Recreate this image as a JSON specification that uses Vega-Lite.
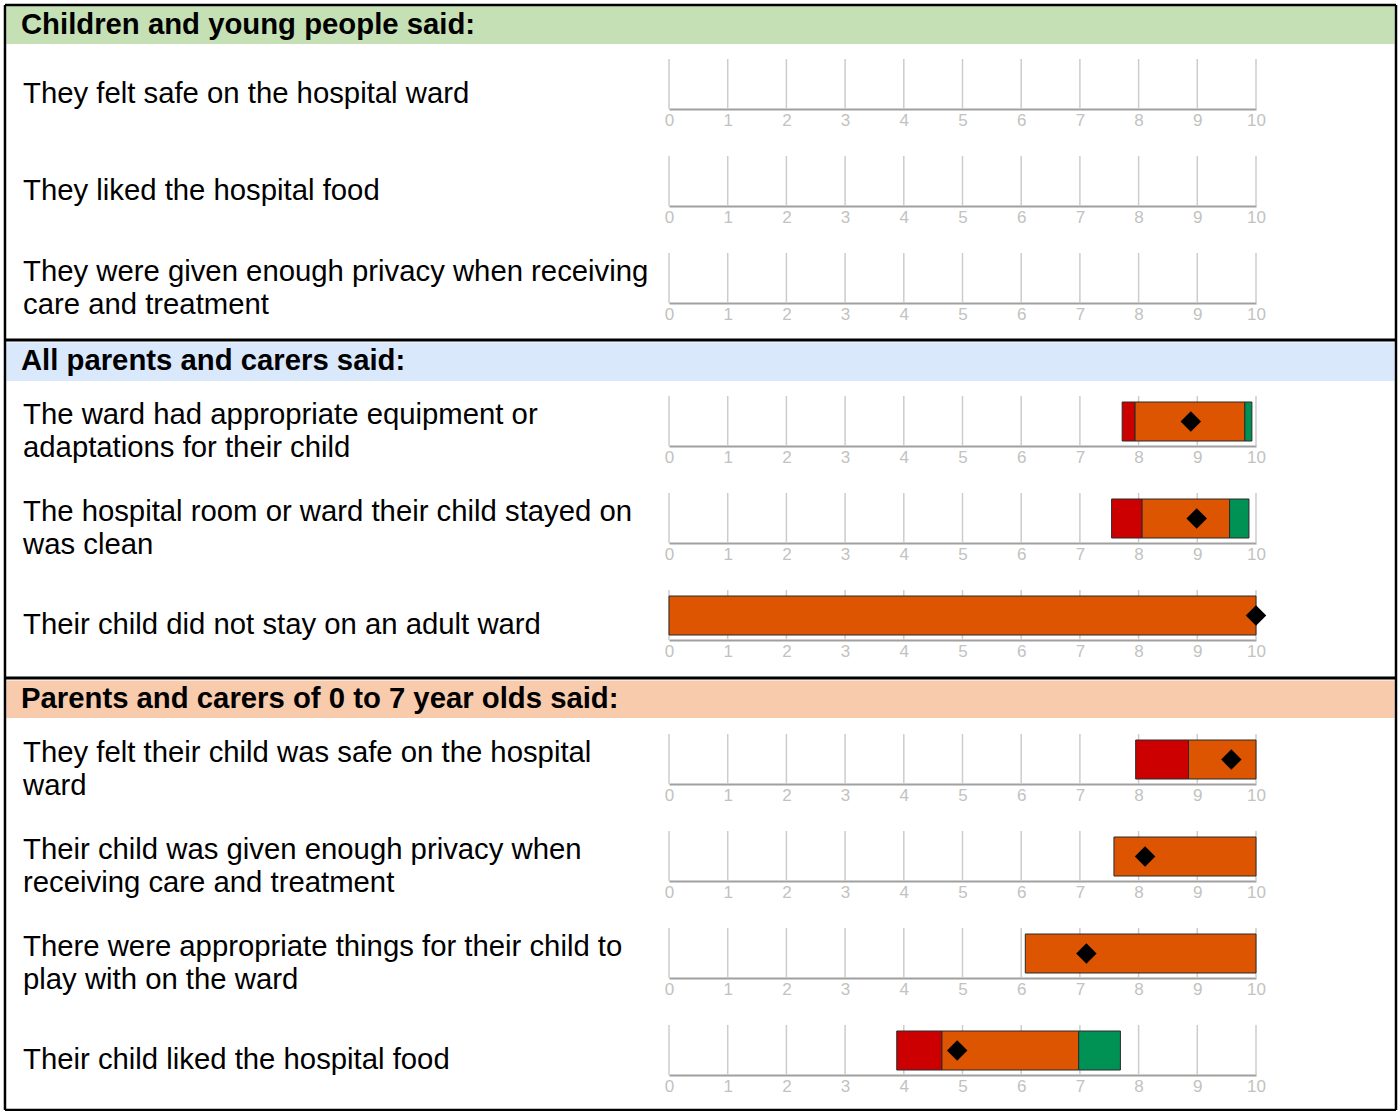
{
  "$schema": "https://vega.github.io/schema/vega-lite/v6.json",
  "background": "white",
  "padding": {"left": 3, "top": 3, "right": 0, "bottom": 0},
  "autosize": {"type": "pad"},
  "spacing": 0,
  "bounds": "flush",
  "config": {
    "view": {"stroke": null},
    "font": "Liberation Sans",
    "axisX": {"grid": false, "ticks": false, "domainColor": "#a0a0a0", "domainWidth": 2, "labelColor": "#c2c2c2", "labelFontSize": 17, "labelFont": "Liberation Sans", "labelPadding": 3, "labelFlush": false, "labelOverlap": false, "labelBound": false}
  },
  "datasets": {
    "headers": [
      {"section": 1, "title": "Children and young people said:"},
      {"section": 2, "title": "All parents and carers said:"},
      {"section": 3, "title": "Parents and carers of 0 to 7 year olds said:"}
    ],
    "questions": [
      {"id": 1, "section": 1, "question": "They felt safe on the hospital ward"},
      {"id": 2, "section": 1, "question": "They liked the hospital food"},
      {"id": 3, "section": 1, "question": "They were given enough privacy when receiving|care and treatment"},
      {"id": 4, "section": 2, "question": "The ward had appropriate equipment or|adaptations for their child"},
      {"id": 5, "section": 2, "question": "The hospital room or ward their child stayed on|was clean"},
      {"id": 6, "section": 2, "question": "Their child did not stay on an adult ward"},
      {"id": 7, "section": 3, "question": "They felt their child was safe on the hospital|ward"},
      {"id": 8, "section": 3, "question": "Their child was given enough privacy when|receiving care and treatment"},
      {"id": 9, "section": 3, "question": "There were appropriate things for their child to|play with on the ward"},
      {"id": 10, "section": 3, "question": "Their child liked the hospital food"}
    ],
    "segments": [
      {"id": 4, "band": "Worse", "start": 7.72, "end": 7.94},
      {"id": 4, "band": "About the same", "start": 7.94, "end": 9.81},
      {"id": 4, "band": "Better", "start": 9.81, "end": 9.93},
      {"id": 5, "band": "Worse", "start": 7.54, "end": 8.06},
      {"id": 5, "band": "About the same", "start": 8.06, "end": 9.55},
      {"id": 5, "band": "Better", "start": 9.55, "end": 9.88},
      {"id": 6, "band": "About the same", "start": 0, "end": 10},
      {"id": 7, "band": "Worse", "start": 7.95, "end": 8.85},
      {"id": 7, "band": "About the same", "start": 8.85, "end": 10},
      {"id": 8, "band": "About the same", "start": 7.58, "end": 10},
      {"id": 9, "band": "About the same", "start": 6.07, "end": 10},
      {"id": 10, "band": "Worse", "start": 3.88, "end": 4.65},
      {"id": 10, "band": "About the same", "start": 4.65, "end": 6.98},
      {"id": 10, "band": "Better", "start": 6.98, "end": 7.69}
    ],
    "scores": [
      {"id": 4, "score": 8.89},
      {"id": 5, "score": 8.99},
      {"id": 6, "score": 10},
      {"id": 7, "score": 9.58},
      {"id": 8, "score": 8.11},
      {"id": 9, "score": 7.11},
      {"id": 10, "score": 4.91}
    ],
    "ticks": [
      {"tick": 0}, {"tick": 1}, {"tick": 2}, {"tick": 3}, {"tick": 4}, {"tick": 5},
      {"tick": 6}, {"tick": 7}, {"tick": 8}, {"tick": 9}, {"tick": 10}
    ]
  },
  "vconcat": [
    {
      "width": 587, "height": 39,
      "data": {"name": "headers"},
      "transform": [{"filter": "datum.section == 1"}],
      "layer": [
        {"mark": {"type": "rect", "color": "#c5e0b4"},
         "encoding": {"x": {"datum": -11.29, "type": "quantitative", "scale": {"domain": [0, 10], "nice": false, "zero": false}, "axis": null}, "x2": {"datum": 12.36},
                      "y": {"datum": 0, "type": "quantitative", "scale": {"domain": [0, 0.78], "nice": false, "zero": false}, "axis": null}, "y2": {"datum": 0.76}}},
        {"mark": {"type": "rule", "color": "black", "strokeWidth": 2.5},
         "encoding": {"x": {"datum": -11.312, "type": "quantitative", "scale": {"domain": [0, 10], "nice": false, "zero": false}, "axis": null}, "x2": {"datum": 12.385},
                      "y": {"datum": 0.78, "type": "quantitative", "scale": {"domain": [0, 0.78], "nice": false, "zero": false}, "axis": null}}},
        {"mark": {"type": "rule", "color": "black", "strokeWidth": 2.5},
         "encoding": {"x": {"datum": -11.312, "type": "quantitative", "scale": {"domain": [0, 10], "nice": false, "zero": false}, "axis": null},
                      "y": {"datum": 0, "type": "quantitative", "scale": {"domain": [0, 0.78], "nice": false, "zero": false}, "axis": null}, "y2": {"datum": 0.78}}},
        {"mark": {"type": "rule", "color": "black", "strokeWidth": 2.5},
         "encoding": {"x": {"datum": 12.385, "type": "quantitative", "scale": {"domain": [0, 10], "nice": false, "zero": false}, "axis": null},
                      "y": {"datum": 0, "type": "quantitative", "scale": {"domain": [0, 0.78], "nice": false, "zero": false}, "axis": null}, "y2": {"datum": 0.78}}},
        {"mark": {"type": "text", "align": "left", "baseline": "middle", "fontSize": 29.3, "fontWeight": "bold", "color": "black"},
         "encoding": {"x": {"datum": -11.04, "type": "quantitative", "scale": {"domain": [0, 10], "nice": false, "zero": false}, "axis": null},
                      "y": {"datum": 0.38, "type": "quantitative", "scale": {"domain": [0, 0.78], "nice": false, "zero": false}, "axis": null},
                      "text": {"field": "title"}}}
      ]
    },
    {
      "width": 587, "height": 65,
      "layer": [
        {"data": {"name": "ticks"}, "mark": {"type": "rule", "color": "#cccccc", "strokeWidth": 1.5},
         "encoding": {"x": {"field": "tick", "type": "quantitative", "scale": {"domain": [0, 10], "nice": false, "zero": false}, "axis": {"values": [0,1,2,3,4,5,6,7,8,9,10], "format": "d", "title": null}},
                      "y": {"datum": 0, "type": "quantitative", "scale": {"domain": [0, 1.3], "nice": false, "zero": false}, "axis": null}, "y2": {"datum": 1}}},
        {"data": {"name": "questions"}, "transform": [{"filter": "datum.id == 1"}], "mark": {"type": "rule", "color": "black", "strokeWidth": 2.5},
         "encoding": {"x": {"datum": -11.312, "type": "quantitative", "scale": {"domain": [0, 10], "nice": false, "zero": false}, "axis": {"values": [0,1,2,3,4,5,6,7,8,9,10], "format": "d", "title": null}},
                      "y": {"datum": 0, "type": "quantitative", "scale": {"domain": [0, 1.3], "nice": false, "zero": false}, "axis": null}, "y2": {"datum": 1.3}}},
        {"data": {"name": "questions"}, "transform": [{"filter": "datum.id == 1"}], "mark": {"type": "rule", "color": "black", "strokeWidth": 2.5},
         "encoding": {"x": {"datum": 12.385, "type": "quantitative", "scale": {"domain": [0, 10], "nice": false, "zero": false}, "axis": {"values": [0,1,2,3,4,5,6,7,8,9,10], "format": "d", "title": null}},
                      "y": {"datum": 0, "type": "quantitative", "scale": {"domain": [0, 1.3], "nice": false, "zero": false}, "axis": null}, "y2": {"datum": 1.3}}},
        {"data": {"name": "questions"}, "transform": [{"filter": "datum.id == 1"}], "mark": {"type": "text", "align": "left", "baseline": "middle", "fontSize": 29.3, "lineHeight": 33, "lineBreak": "|", "color": "black"},
         "encoding": {"x": {"datum": -11.005, "type": "quantitative", "scale": {"domain": [0, 10], "nice": false, "zero": false}, "axis": {"values": [0,1,2,3,4,5,6,7,8,9,10], "format": "d", "title": null}},
                      "y": {"datum": 0.3, "type": "quantitative", "scale": {"domain": [0, 1.3], "nice": false, "zero": false}, "axis": null},
                      "text": {"field": "question"}}}
      ]
    },
    {
      "width": 587, "height": 97,
      "layer": [
        {"data": {"name": "ticks"}, "mark": {"type": "rule", "color": "#cccccc", "strokeWidth": 1.5},
         "encoding": {"x": {"field": "tick", "type": "quantitative", "scale": {"domain": [0, 10], "nice": false, "zero": false}, "axis": {"values": [0,1,2,3,4,5,6,7,8,9,10], "format": "d", "title": null}},
                      "y": {"datum": 0, "type": "quantitative", "scale": {"domain": [0, 1.94], "nice": false, "zero": false}, "axis": null}, "y2": {"datum": 1}}},
        {"data": {"name": "questions"}, "transform": [{"filter": "datum.id == 2"}], "mark": {"type": "rule", "color": "black", "strokeWidth": 2.5},
         "encoding": {"x": {"datum": -11.312, "type": "quantitative", "scale": {"domain": [0, 10], "nice": false, "zero": false}, "axis": {"values": [0,1,2,3,4,5,6,7,8,9,10], "format": "d", "title": null}},
                      "y": {"datum": 0, "type": "quantitative", "scale": {"domain": [0, 1.94], "nice": false, "zero": false}, "axis": null}, "y2": {"datum": 1.94}}},
        {"data": {"name": "questions"}, "transform": [{"filter": "datum.id == 2"}], "mark": {"type": "rule", "color": "black", "strokeWidth": 2.5},
         "encoding": {"x": {"datum": 12.385, "type": "quantitative", "scale": {"domain": [0, 10], "nice": false, "zero": false}, "axis": {"values": [0,1,2,3,4,5,6,7,8,9,10], "format": "d", "title": null}},
                      "y": {"datum": 0, "type": "quantitative", "scale": {"domain": [0, 1.94], "nice": false, "zero": false}, "axis": null}, "y2": {"datum": 1.94}}},
        {"data": {"name": "questions"}, "transform": [{"filter": "datum.id == 2"}], "mark": {"type": "text", "align": "left", "baseline": "middle", "fontSize": 29.3, "lineHeight": 33, "lineBreak": "|", "color": "black"},
         "encoding": {"x": {"datum": -11.005, "type": "quantitative", "scale": {"domain": [0, 10], "nice": false, "zero": false}, "axis": {"values": [0,1,2,3,4,5,6,7,8,9,10], "format": "d", "title": null}},
                      "y": {"datum": 0.3, "type": "quantitative", "scale": {"domain": [0, 1.94], "nice": false, "zero": false}, "axis": null},
                      "text": {"field": "question"}}}
      ]
    },
    {
      "width": 587, "height": 97,
      "layer": [
        {"data": {"name": "ticks"}, "mark": {"type": "rule", "color": "#cccccc", "strokeWidth": 1.5},
         "encoding": {"x": {"field": "tick", "type": "quantitative", "scale": {"domain": [0, 10], "nice": false, "zero": false}, "axis": {"values": [0,1,2,3,4,5,6,7,8,9,10], "format": "d", "title": null}},
                      "y": {"datum": 0, "type": "quantitative", "scale": {"domain": [0, 1.94], "nice": false, "zero": false}, "axis": null}, "y2": {"datum": 1}}},
        {"data": {"name": "questions"}, "transform": [{"filter": "datum.id == 3"}], "mark": {"type": "rule", "color": "black", "strokeWidth": 2.5},
         "encoding": {"x": {"datum": -11.312, "type": "quantitative", "scale": {"domain": [0, 10], "nice": false, "zero": false}, "axis": {"values": [0,1,2,3,4,5,6,7,8,9,10], "format": "d", "title": null}},
                      "y": {"datum": 0, "type": "quantitative", "scale": {"domain": [0, 1.94], "nice": false, "zero": false}, "axis": null}, "y2": {"datum": 1.94}}},
        {"data": {"name": "questions"}, "transform": [{"filter": "datum.id == 3"}], "mark": {"type": "rule", "color": "black", "strokeWidth": 2.5},
         "encoding": {"x": {"datum": 12.385, "type": "quantitative", "scale": {"domain": [0, 10], "nice": false, "zero": false}, "axis": {"values": [0,1,2,3,4,5,6,7,8,9,10], "format": "d", "title": null}},
                      "y": {"datum": 0, "type": "quantitative", "scale": {"domain": [0, 1.94], "nice": false, "zero": false}, "axis": null}, "y2": {"datum": 1.94}}},
        {"data": {"name": "questions"}, "transform": [{"filter": "datum.id == 3"}], "mark": {"type": "text", "align": "left", "baseline": "middle", "fontSize": 29.3, "lineHeight": 33, "lineBreak": "|", "color": "black"},
         "encoding": {"x": {"datum": -11.005, "type": "quantitative", "scale": {"domain": [0, 10], "nice": false, "zero": false}, "axis": {"values": [0,1,2,3,4,5,6,7,8,9,10], "format": "d", "title": null}},
                      "y": {"datum": 0.62, "type": "quantitative", "scale": {"domain": [0, 1.94], "nice": false, "zero": false}, "axis": null},
                      "text": {"field": "question"}}}
      ]
    },
    {
      "width": 587, "height": 78,
      "data": {"name": "headers"},
      "transform": [{"filter": "datum.section == 2"}],
      "layer": [
        {"mark": {"type": "rect", "color": "#dae8fc"},
         "encoding": {"x": {"datum": -11.29, "type": "quantitative", "scale": {"domain": [0, 10], "nice": false, "zero": false}, "axis": null}, "x2": {"datum": 12.36},
                      "y": {"datum": 0, "type": "quantitative", "scale": {"domain": [0, 1.56], "nice": false, "zero": false}, "axis": null}, "y2": {"datum": 0.77}}},
        {"mark": {"type": "rule", "color": "black", "strokeWidth": 3},
         "encoding": {"x": {"datum": -11.312, "type": "quantitative", "scale": {"domain": [0, 10], "nice": false, "zero": false}, "axis": null}, "x2": {"datum": 12.385},
                      "y": {"datum": 0.82, "type": "quantitative", "scale": {"domain": [0, 1.56], "nice": false, "zero": false}, "axis": null}}},
        {"mark": {"type": "rule", "color": "black", "strokeWidth": 2.5},
         "encoding": {"x": {"datum": -11.312, "type": "quantitative", "scale": {"domain": [0, 10], "nice": false, "zero": false}, "axis": null},
                      "y": {"datum": 0, "type": "quantitative", "scale": {"domain": [0, 1.56], "nice": false, "zero": false}, "axis": null}, "y2": {"datum": 1.56}}},
        {"mark": {"type": "rule", "color": "black", "strokeWidth": 2.5},
         "encoding": {"x": {"datum": 12.385, "type": "quantitative", "scale": {"domain": [0, 10], "nice": false, "zero": false}, "axis": null},
                      "y": {"datum": 0, "type": "quantitative", "scale": {"domain": [0, 1.56], "nice": false, "zero": false}, "axis": null}, "y2": {"datum": 1.56}}},
        {"mark": {"type": "text", "align": "left", "baseline": "middle", "fontSize": 29.3, "fontWeight": "bold", "color": "black"},
         "encoding": {"x": {"datum": -11.04, "type": "quantitative", "scale": {"domain": [0, 10], "nice": false, "zero": false}, "axis": null},
                      "y": {"datum": 0.4, "type": "quantitative", "scale": {"domain": [0, 1.56], "nice": false, "zero": false}, "axis": null},
                      "text": {"field": "title"}}}
      ]
    },
    {
      "width": 587, "height": 65,
      "layer": [
        {"data": {"name": "ticks"}, "mark": {"type": "rule", "color": "#cccccc", "strokeWidth": 1.5},
         "encoding": {"x": {"field": "tick", "type": "quantitative", "scale": {"domain": [0, 10], "nice": false, "zero": false}, "axis": {"values": [0,1,2,3,4,5,6,7,8,9,10], "format": "d", "title": null}},
                      "y": {"datum": 0, "type": "quantitative", "scale": {"domain": [0, 1.3], "nice": false, "zero": false}, "axis": null}, "y2": {"datum": 1}}},
        {"data": {"name": "questions"}, "transform": [{"filter": "datum.id == 4"}], "mark": {"type": "rule", "color": "black", "strokeWidth": 2.5},
         "encoding": {"x": {"datum": -11.312, "type": "quantitative", "scale": {"domain": [0, 10], "nice": false, "zero": false}, "axis": {"values": [0,1,2,3,4,5,6,7,8,9,10], "format": "d", "title": null}},
                      "y": {"datum": 0, "type": "quantitative", "scale": {"domain": [0, 1.3], "nice": false, "zero": false}, "axis": null}, "y2": {"datum": 1.3}}},
        {"data": {"name": "questions"}, "transform": [{"filter": "datum.id == 4"}], "mark": {"type": "rule", "color": "black", "strokeWidth": 2.5},
         "encoding": {"x": {"datum": 12.385, "type": "quantitative", "scale": {"domain": [0, 10], "nice": false, "zero": false}, "axis": {"values": [0,1,2,3,4,5,6,7,8,9,10], "format": "d", "title": null}},
                      "y": {"datum": 0, "type": "quantitative", "scale": {"domain": [0, 1.3], "nice": false, "zero": false}, "axis": null}, "y2": {"datum": 1.3}}},
        {"data": {"name": "segments"}, "transform": [{"filter": "datum.id == 4"}], "mark": {"type": "bar", "stroke": "#2a2a2a", "strokeWidth": 1},
         "encoding": {"x": {"field": "start", "type": "quantitative", "scale": {"domain": [0, 10], "nice": false, "zero": false}, "axis": {"values": [0,1,2,3,4,5,6,7,8,9,10], "format": "d", "title": null}}, "x2": {"field": "end"},
                      "y": {"datum": 0.1, "type": "quantitative", "scale": {"domain": [0, 1.3], "nice": false, "zero": false}, "axis": null}, "y2": {"datum": 0.88},
                      "color": {"field": "band", "type": "nominal", "scale": {"domain": ["Worse", "About the same", "Better"], "range": ["#cc0000", "#dd5500", "#009155"]}, "legend": null}}},
        {"data": {"name": "scores"}, "transform": [{"filter": "datum.id == 4"}], "mark": {"type": "point", "shape": "diamond", "filled": true, "size": 420, "color": "black", "opacity": 1},
         "encoding": {"x": {"field": "score", "type": "quantitative", "scale": {"domain": [0, 10], "nice": false, "zero": false}, "axis": {"values": [0,1,2,3,4,5,6,7,8,9,10], "format": "d", "title": null}},
                      "y": {"datum": 0.49, "type": "quantitative", "scale": {"domain": [0, 1.3], "nice": false, "zero": false}, "axis": null}}},
        {"data": {"name": "questions"}, "transform": [{"filter": "datum.id == 4"}], "mark": {"type": "text", "align": "left", "baseline": "middle", "fontSize": 29.3, "lineHeight": 33, "lineBreak": "|", "color": "black"},
         "encoding": {"x": {"datum": -11.005, "type": "quantitative", "scale": {"domain": [0, 10], "nice": false, "zero": false}, "axis": {"values": [0,1,2,3,4,5,6,7,8,9,10], "format": "d", "title": null}},
                      "y": {"datum": 0.62, "type": "quantitative", "scale": {"domain": [0, 1.3], "nice": false, "zero": false}, "axis": null},
                      "text": {"field": "question"}}}
      ]
    },
    {
      "width": 587, "height": 97,
      "layer": [
        {"data": {"name": "ticks"}, "mark": {"type": "rule", "color": "#cccccc", "strokeWidth": 1.5},
         "encoding": {"x": {"field": "tick", "type": "quantitative", "scale": {"domain": [0, 10], "nice": false, "zero": false}, "axis": {"values": [0,1,2,3,4,5,6,7,8,9,10], "format": "d", "title": null}},
                      "y": {"datum": 0, "type": "quantitative", "scale": {"domain": [0, 1.94], "nice": false, "zero": false}, "axis": null}, "y2": {"datum": 1}}},
        {"data": {"name": "questions"}, "transform": [{"filter": "datum.id == 5"}], "mark": {"type": "rule", "color": "black", "strokeWidth": 2.5},
         "encoding": {"x": {"datum": -11.312, "type": "quantitative", "scale": {"domain": [0, 10], "nice": false, "zero": false}, "axis": {"values": [0,1,2,3,4,5,6,7,8,9,10], "format": "d", "title": null}},
                      "y": {"datum": 0, "type": "quantitative", "scale": {"domain": [0, 1.94], "nice": false, "zero": false}, "axis": null}, "y2": {"datum": 1.94}}},
        {"data": {"name": "questions"}, "transform": [{"filter": "datum.id == 5"}], "mark": {"type": "rule", "color": "black", "strokeWidth": 2.5},
         "encoding": {"x": {"datum": 12.385, "type": "quantitative", "scale": {"domain": [0, 10], "nice": false, "zero": false}, "axis": {"values": [0,1,2,3,4,5,6,7,8,9,10], "format": "d", "title": null}},
                      "y": {"datum": 0, "type": "quantitative", "scale": {"domain": [0, 1.94], "nice": false, "zero": false}, "axis": null}, "y2": {"datum": 1.94}}},
        {"data": {"name": "segments"}, "transform": [{"filter": "datum.id == 5"}], "mark": {"type": "bar", "stroke": "#2a2a2a", "strokeWidth": 1},
         "encoding": {"x": {"field": "start", "type": "quantitative", "scale": {"domain": [0, 10], "nice": false, "zero": false}, "axis": {"values": [0,1,2,3,4,5,6,7,8,9,10], "format": "d", "title": null}}, "x2": {"field": "end"},
                      "y": {"datum": 0.1, "type": "quantitative", "scale": {"domain": [0, 1.94], "nice": false, "zero": false}, "axis": null}, "y2": {"datum": 0.88},
                      "color": {"field": "band", "type": "nominal", "scale": {"domain": ["Worse", "About the same", "Better"], "range": ["#cc0000", "#dd5500", "#009155"]}, "legend": null}}},
        {"data": {"name": "scores"}, "transform": [{"filter": "datum.id == 5"}], "mark": {"type": "point", "shape": "diamond", "filled": true, "size": 420, "color": "black", "opacity": 1},
         "encoding": {"x": {"field": "score", "type": "quantitative", "scale": {"domain": [0, 10], "nice": false, "zero": false}, "axis": {"values": [0,1,2,3,4,5,6,7,8,9,10], "format": "d", "title": null}},
                      "y": {"datum": 0.49, "type": "quantitative", "scale": {"domain": [0, 1.94], "nice": false, "zero": false}, "axis": null}}},
        {"data": {"name": "questions"}, "transform": [{"filter": "datum.id == 5"}], "mark": {"type": "text", "align": "left", "baseline": "middle", "fontSize": 29.3, "lineHeight": 33, "lineBreak": "|", "color": "black"},
         "encoding": {"x": {"datum": -11.005, "type": "quantitative", "scale": {"domain": [0, 10], "nice": false, "zero": false}, "axis": {"values": [0,1,2,3,4,5,6,7,8,9,10], "format": "d", "title": null}},
                      "y": {"datum": 0.62, "type": "quantitative", "scale": {"domain": [0, 1.94], "nice": false, "zero": false}, "axis": null},
                      "text": {"field": "question"}}}
      ]
    },
    {
      "width": 587, "height": 97,
      "layer": [
        {"data": {"name": "ticks"}, "mark": {"type": "rule", "color": "#cccccc", "strokeWidth": 1.5},
         "encoding": {"x": {"field": "tick", "type": "quantitative", "scale": {"domain": [0, 10], "nice": false, "zero": false}, "axis": {"values": [0,1,2,3,4,5,6,7,8,9,10], "format": "d", "title": null}},
                      "y": {"datum": 0, "type": "quantitative", "scale": {"domain": [0, 1.94], "nice": false, "zero": false}, "axis": null}, "y2": {"datum": 1}}},
        {"data": {"name": "questions"}, "transform": [{"filter": "datum.id == 6"}], "mark": {"type": "rule", "color": "black", "strokeWidth": 2.5},
         "encoding": {"x": {"datum": -11.312, "type": "quantitative", "scale": {"domain": [0, 10], "nice": false, "zero": false}, "axis": {"values": [0,1,2,3,4,5,6,7,8,9,10], "format": "d", "title": null}},
                      "y": {"datum": 0, "type": "quantitative", "scale": {"domain": [0, 1.94], "nice": false, "zero": false}, "axis": null}, "y2": {"datum": 1.94}}},
        {"data": {"name": "questions"}, "transform": [{"filter": "datum.id == 6"}], "mark": {"type": "rule", "color": "black", "strokeWidth": 2.5},
         "encoding": {"x": {"datum": 12.385, "type": "quantitative", "scale": {"domain": [0, 10], "nice": false, "zero": false}, "axis": {"values": [0,1,2,3,4,5,6,7,8,9,10], "format": "d", "title": null}},
                      "y": {"datum": 0, "type": "quantitative", "scale": {"domain": [0, 1.94], "nice": false, "zero": false}, "axis": null}, "y2": {"datum": 1.94}}},
        {"data": {"name": "segments"}, "transform": [{"filter": "datum.id == 6"}], "mark": {"type": "bar", "stroke": "#2a2a2a", "strokeWidth": 1},
         "encoding": {"x": {"field": "start", "type": "quantitative", "scale": {"domain": [0, 10], "nice": false, "zero": false}, "axis": {"values": [0,1,2,3,4,5,6,7,8,9,10], "format": "d", "title": null}}, "x2": {"field": "end"},
                      "y": {"datum": 0.1, "type": "quantitative", "scale": {"domain": [0, 1.94], "nice": false, "zero": false}, "axis": null}, "y2": {"datum": 0.88},
                      "color": {"field": "band", "type": "nominal", "scale": {"domain": ["Worse", "About the same", "Better"], "range": ["#cc0000", "#dd5500", "#009155"]}, "legend": null}}},
        {"data": {"name": "scores"}, "transform": [{"filter": "datum.id == 6"}], "mark": {"type": "point", "shape": "diamond", "filled": true, "size": 420, "color": "black", "opacity": 1},
         "encoding": {"x": {"field": "score", "type": "quantitative", "scale": {"domain": [0, 10], "nice": false, "zero": false}, "axis": {"values": [0,1,2,3,4,5,6,7,8,9,10], "format": "d", "title": null}},
                      "y": {"datum": 0.49, "type": "quantitative", "scale": {"domain": [0, 1.94], "nice": false, "zero": false}, "axis": null}}},
        {"data": {"name": "questions"}, "transform": [{"filter": "datum.id == 6"}], "mark": {"type": "text", "align": "left", "baseline": "middle", "fontSize": 29.3, "lineHeight": 33, "lineBreak": "|", "color": "black"},
         "encoding": {"x": {"datum": -11.005, "type": "quantitative", "scale": {"domain": [0, 10], "nice": false, "zero": false}, "axis": {"values": [0,1,2,3,4,5,6,7,8,9,10], "format": "d", "title": null}},
                      "y": {"datum": 0.3, "type": "quantitative", "scale": {"domain": [0, 1.94], "nice": false, "zero": false}, "axis": null},
                      "text": {"field": "question"}}}
      ]
    },
    {
      "width": 587, "height": 78,
      "data": {"name": "headers"},
      "transform": [{"filter": "datum.section == 3"}],
      "layer": [
        {"mark": {"type": "rect", "color": "#f8cbad"},
         "encoding": {"x": {"datum": -11.29, "type": "quantitative", "scale": {"domain": [0, 10], "nice": false, "zero": false}, "axis": null}, "x2": {"datum": 12.36},
                      "y": {"datum": 0, "type": "quantitative", "scale": {"domain": [0, 1.56], "nice": false, "zero": false}, "axis": null}, "y2": {"datum": 0.75}}},
        {"mark": {"type": "rule", "color": "black", "strokeWidth": 3},
         "encoding": {"x": {"datum": -11.312, "type": "quantitative", "scale": {"domain": [0, 10], "nice": false, "zero": false}, "axis": null}, "x2": {"datum": 12.385},
                      "y": {"datum": 0.8, "type": "quantitative", "scale": {"domain": [0, 1.56], "nice": false, "zero": false}, "axis": null}}},
        {"mark": {"type": "rule", "color": "black", "strokeWidth": 2.5},
         "encoding": {"x": {"datum": -11.312, "type": "quantitative", "scale": {"domain": [0, 10], "nice": false, "zero": false}, "axis": null},
                      "y": {"datum": 0, "type": "quantitative", "scale": {"domain": [0, 1.56], "nice": false, "zero": false}, "axis": null}, "y2": {"datum": 1.56}}},
        {"mark": {"type": "rule", "color": "black", "strokeWidth": 2.5},
         "encoding": {"x": {"datum": 12.385, "type": "quantitative", "scale": {"domain": [0, 10], "nice": false, "zero": false}, "axis": null},
                      "y": {"datum": 0, "type": "quantitative", "scale": {"domain": [0, 1.56], "nice": false, "zero": false}, "axis": null}, "y2": {"datum": 1.56}}},
        {"mark": {"type": "text", "align": "left", "baseline": "middle", "fontSize": 29.3, "fontWeight": "bold", "color": "black"},
         "encoding": {"x": {"datum": -11.04, "type": "quantitative", "scale": {"domain": [0, 10], "nice": false, "zero": false}, "axis": null},
                      "y": {"datum": 0.38, "type": "quantitative", "scale": {"domain": [0, 1.56], "nice": false, "zero": false}, "axis": null},
                      "text": {"field": "title"}}}
      ]
    },
    {
      "width": 587, "height": 66,
      "layer": [
        {"data": {"name": "ticks"}, "mark": {"type": "rule", "color": "#cccccc", "strokeWidth": 1.5},
         "encoding": {"x": {"field": "tick", "type": "quantitative", "scale": {"domain": [0, 10], "nice": false, "zero": false}, "axis": {"values": [0,1,2,3,4,5,6,7,8,9,10], "format": "d", "title": null}},
                      "y": {"datum": 0, "type": "quantitative", "scale": {"domain": [0, 1.32], "nice": false, "zero": false}, "axis": null}, "y2": {"datum": 1}}},
        {"data": {"name": "questions"}, "transform": [{"filter": "datum.id == 7"}], "mark": {"type": "rule", "color": "black", "strokeWidth": 2.5},
         "encoding": {"x": {"datum": -11.312, "type": "quantitative", "scale": {"domain": [0, 10], "nice": false, "zero": false}, "axis": {"values": [0,1,2,3,4,5,6,7,8,9,10], "format": "d", "title": null}},
                      "y": {"datum": 0, "type": "quantitative", "scale": {"domain": [0, 1.32], "nice": false, "zero": false}, "axis": null}, "y2": {"datum": 1.32}}},
        {"data": {"name": "questions"}, "transform": [{"filter": "datum.id == 7"}], "mark": {"type": "rule", "color": "black", "strokeWidth": 2.5},
         "encoding": {"x": {"datum": 12.385, "type": "quantitative", "scale": {"domain": [0, 10], "nice": false, "zero": false}, "axis": {"values": [0,1,2,3,4,5,6,7,8,9,10], "format": "d", "title": null}},
                      "y": {"datum": 0, "type": "quantitative", "scale": {"domain": [0, 1.32], "nice": false, "zero": false}, "axis": null}, "y2": {"datum": 1.32}}},
        {"data": {"name": "segments"}, "transform": [{"filter": "datum.id == 7"}], "mark": {"type": "bar", "stroke": "#2a2a2a", "strokeWidth": 1},
         "encoding": {"x": {"field": "start", "type": "quantitative", "scale": {"domain": [0, 10], "nice": false, "zero": false}, "axis": {"values": [0,1,2,3,4,5,6,7,8,9,10], "format": "d", "title": null}}, "x2": {"field": "end"},
                      "y": {"datum": 0.1, "type": "quantitative", "scale": {"domain": [0, 1.32], "nice": false, "zero": false}, "axis": null}, "y2": {"datum": 0.88},
                      "color": {"field": "band", "type": "nominal", "scale": {"domain": ["Worse", "About the same", "Better"], "range": ["#cc0000", "#dd5500", "#009155"]}, "legend": null}}},
        {"data": {"name": "scores"}, "transform": [{"filter": "datum.id == 7"}], "mark": {"type": "point", "shape": "diamond", "filled": true, "size": 420, "color": "black", "opacity": 1},
         "encoding": {"x": {"field": "score", "type": "quantitative", "scale": {"domain": [0, 10], "nice": false, "zero": false}, "axis": {"values": [0,1,2,3,4,5,6,7,8,9,10], "format": "d", "title": null}},
                      "y": {"datum": 0.49, "type": "quantitative", "scale": {"domain": [0, 1.32], "nice": false, "zero": false}, "axis": null}}},
        {"data": {"name": "questions"}, "transform": [{"filter": "datum.id == 7"}], "mark": {"type": "text", "align": "left", "baseline": "middle", "fontSize": 29.3, "lineHeight": 33, "lineBreak": "|", "color": "black"},
         "encoding": {"x": {"datum": -11.005, "type": "quantitative", "scale": {"domain": [0, 10], "nice": false, "zero": false}, "axis": {"values": [0,1,2,3,4,5,6,7,8,9,10], "format": "d", "title": null}},
                      "y": {"datum": 0.62, "type": "quantitative", "scale": {"domain": [0, 1.32], "nice": false, "zero": false}, "axis": null},
                      "text": {"field": "question"}}}
      ]
    },
    {
      "width": 587, "height": 97,
      "layer": [
        {"data": {"name": "ticks"}, "mark": {"type": "rule", "color": "#cccccc", "strokeWidth": 1.5},
         "encoding": {"x": {"field": "tick", "type": "quantitative", "scale": {"domain": [0, 10], "nice": false, "zero": false}, "axis": {"values": [0,1,2,3,4,5,6,7,8,9,10], "format": "d", "title": null}},
                      "y": {"datum": 0, "type": "quantitative", "scale": {"domain": [0, 1.94], "nice": false, "zero": false}, "axis": null}, "y2": {"datum": 1}}},
        {"data": {"name": "questions"}, "transform": [{"filter": "datum.id == 8"}], "mark": {"type": "rule", "color": "black", "strokeWidth": 2.5},
         "encoding": {"x": {"datum": -11.312, "type": "quantitative", "scale": {"domain": [0, 10], "nice": false, "zero": false}, "axis": {"values": [0,1,2,3,4,5,6,7,8,9,10], "format": "d", "title": null}},
                      "y": {"datum": 0, "type": "quantitative", "scale": {"domain": [0, 1.94], "nice": false, "zero": false}, "axis": null}, "y2": {"datum": 1.94}}},
        {"data": {"name": "questions"}, "transform": [{"filter": "datum.id == 8"}], "mark": {"type": "rule", "color": "black", "strokeWidth": 2.5},
         "encoding": {"x": {"datum": 12.385, "type": "quantitative", "scale": {"domain": [0, 10], "nice": false, "zero": false}, "axis": {"values": [0,1,2,3,4,5,6,7,8,9,10], "format": "d", "title": null}},
                      "y": {"datum": 0, "type": "quantitative", "scale": {"domain": [0, 1.94], "nice": false, "zero": false}, "axis": null}, "y2": {"datum": 1.94}}},
        {"data": {"name": "segments"}, "transform": [{"filter": "datum.id == 8"}], "mark": {"type": "bar", "stroke": "#2a2a2a", "strokeWidth": 1},
         "encoding": {"x": {"field": "start", "type": "quantitative", "scale": {"domain": [0, 10], "nice": false, "zero": false}, "axis": {"values": [0,1,2,3,4,5,6,7,8,9,10], "format": "d", "title": null}}, "x2": {"field": "end"},
                      "y": {"datum": 0.1, "type": "quantitative", "scale": {"domain": [0, 1.94], "nice": false, "zero": false}, "axis": null}, "y2": {"datum": 0.88},
                      "color": {"field": "band", "type": "nominal", "scale": {"domain": ["Worse", "About the same", "Better"], "range": ["#cc0000", "#dd5500", "#009155"]}, "legend": null}}},
        {"data": {"name": "scores"}, "transform": [{"filter": "datum.id == 8"}], "mark": {"type": "point", "shape": "diamond", "filled": true, "size": 420, "color": "black", "opacity": 1},
         "encoding": {"x": {"field": "score", "type": "quantitative", "scale": {"domain": [0, 10], "nice": false, "zero": false}, "axis": {"values": [0,1,2,3,4,5,6,7,8,9,10], "format": "d", "title": null}},
                      "y": {"datum": 0.49, "type": "quantitative", "scale": {"domain": [0, 1.94], "nice": false, "zero": false}, "axis": null}}},
        {"data": {"name": "questions"}, "transform": [{"filter": "datum.id == 8"}], "mark": {"type": "text", "align": "left", "baseline": "middle", "fontSize": 29.3, "lineHeight": 33, "lineBreak": "|", "color": "black"},
         "encoding": {"x": {"datum": -11.005, "type": "quantitative", "scale": {"domain": [0, 10], "nice": false, "zero": false}, "axis": {"values": [0,1,2,3,4,5,6,7,8,9,10], "format": "d", "title": null}},
                      "y": {"datum": 0.62, "type": "quantitative", "scale": {"domain": [0, 1.94], "nice": false, "zero": false}, "axis": null},
                      "text": {"field": "question"}}}
      ]
    },
    {
      "width": 587, "height": 97,
      "layer": [
        {"data": {"name": "ticks"}, "mark": {"type": "rule", "color": "#cccccc", "strokeWidth": 1.5},
         "encoding": {"x": {"field": "tick", "type": "quantitative", "scale": {"domain": [0, 10], "nice": false, "zero": false}, "axis": {"values": [0,1,2,3,4,5,6,7,8,9,10], "format": "d", "title": null}},
                      "y": {"datum": 0, "type": "quantitative", "scale": {"domain": [0, 1.94], "nice": false, "zero": false}, "axis": null}, "y2": {"datum": 1}}},
        {"data": {"name": "questions"}, "transform": [{"filter": "datum.id == 9"}], "mark": {"type": "rule", "color": "black", "strokeWidth": 2.5},
         "encoding": {"x": {"datum": -11.312, "type": "quantitative", "scale": {"domain": [0, 10], "nice": false, "zero": false}, "axis": {"values": [0,1,2,3,4,5,6,7,8,9,10], "format": "d", "title": null}},
                      "y": {"datum": 0, "type": "quantitative", "scale": {"domain": [0, 1.94], "nice": false, "zero": false}, "axis": null}, "y2": {"datum": 1.94}}},
        {"data": {"name": "questions"}, "transform": [{"filter": "datum.id == 9"}], "mark": {"type": "rule", "color": "black", "strokeWidth": 2.5},
         "encoding": {"x": {"datum": 12.385, "type": "quantitative", "scale": {"domain": [0, 10], "nice": false, "zero": false}, "axis": {"values": [0,1,2,3,4,5,6,7,8,9,10], "format": "d", "title": null}},
                      "y": {"datum": 0, "type": "quantitative", "scale": {"domain": [0, 1.94], "nice": false, "zero": false}, "axis": null}, "y2": {"datum": 1.94}}},
        {"data": {"name": "segments"}, "transform": [{"filter": "datum.id == 9"}], "mark": {"type": "bar", "stroke": "#2a2a2a", "strokeWidth": 1},
         "encoding": {"x": {"field": "start", "type": "quantitative", "scale": {"domain": [0, 10], "nice": false, "zero": false}, "axis": {"values": [0,1,2,3,4,5,6,7,8,9,10], "format": "d", "title": null}}, "x2": {"field": "end"},
                      "y": {"datum": 0.1, "type": "quantitative", "scale": {"domain": [0, 1.94], "nice": false, "zero": false}, "axis": null}, "y2": {"datum": 0.88},
                      "color": {"field": "band", "type": "nominal", "scale": {"domain": ["Worse", "About the same", "Better"], "range": ["#cc0000", "#dd5500", "#009155"]}, "legend": null}}},
        {"data": {"name": "scores"}, "transform": [{"filter": "datum.id == 9"}], "mark": {"type": "point", "shape": "diamond", "filled": true, "size": 420, "color": "black", "opacity": 1},
         "encoding": {"x": {"field": "score", "type": "quantitative", "scale": {"domain": [0, 10], "nice": false, "zero": false}, "axis": {"values": [0,1,2,3,4,5,6,7,8,9,10], "format": "d", "title": null}},
                      "y": {"datum": 0.49, "type": "quantitative", "scale": {"domain": [0, 1.94], "nice": false, "zero": false}, "axis": null}}},
        {"data": {"name": "questions"}, "transform": [{"filter": "datum.id == 9"}], "mark": {"type": "text", "align": "left", "baseline": "middle", "fontSize": 29.3, "lineHeight": 33, "lineBreak": "|", "color": "black"},
         "encoding": {"x": {"datum": -11.005, "type": "quantitative", "scale": {"domain": [0, 10], "nice": false, "zero": false}, "axis": {"values": [0,1,2,3,4,5,6,7,8,9,10], "format": "d", "title": null}},
                      "y": {"datum": 0.62, "type": "quantitative", "scale": {"domain": [0, 1.94], "nice": false, "zero": false}, "axis": null},
                      "text": {"field": "question"}}}
      ]
    },
    {
      "width": 587, "height": 97,
      "layer": [
        {"data": {"name": "ticks"}, "mark": {"type": "rule", "color": "#cccccc", "strokeWidth": 1.5},
         "encoding": {"x": {"field": "tick", "type": "quantitative", "scale": {"domain": [0, 10], "nice": false, "zero": false}, "axis": {"values": [0,1,2,3,4,5,6,7,8,9,10], "format": "d", "title": null}},
                      "y": {"datum": 0, "type": "quantitative", "scale": {"domain": [0, 1.94], "nice": false, "zero": false}, "axis": null}, "y2": {"datum": 1}}},
        {"data": {"name": "questions"}, "transform": [{"filter": "datum.id == 10"}], "mark": {"type": "rule", "color": "black", "strokeWidth": 2.5},
         "encoding": {"x": {"datum": -11.312, "type": "quantitative", "scale": {"domain": [0, 10], "nice": false, "zero": false}, "axis": {"values": [0,1,2,3,4,5,6,7,8,9,10], "format": "d", "title": null}},
                      "y": {"datum": 0, "type": "quantitative", "scale": {"domain": [0, 1.94], "nice": false, "zero": false}, "axis": null}, "y2": {"datum": 1.94}}},
        {"data": {"name": "questions"}, "transform": [{"filter": "datum.id == 10"}], "mark": {"type": "rule", "color": "black", "strokeWidth": 2.5},
         "encoding": {"x": {"datum": 12.385, "type": "quantitative", "scale": {"domain": [0, 10], "nice": false, "zero": false}, "axis": {"values": [0,1,2,3,4,5,6,7,8,9,10], "format": "d", "title": null}},
                      "y": {"datum": 0, "type": "quantitative", "scale": {"domain": [0, 1.94], "nice": false, "zero": false}, "axis": null}, "y2": {"datum": 1.94}}},
        {"data": {"name": "segments"}, "transform": [{"filter": "datum.id == 10"}], "mark": {"type": "bar", "stroke": "#2a2a2a", "strokeWidth": 1},
         "encoding": {"x": {"field": "start", "type": "quantitative", "scale": {"domain": [0, 10], "nice": false, "zero": false}, "axis": {"values": [0,1,2,3,4,5,6,7,8,9,10], "format": "d", "title": null}}, "x2": {"field": "end"},
                      "y": {"datum": 0.1, "type": "quantitative", "scale": {"domain": [0, 1.94], "nice": false, "zero": false}, "axis": null}, "y2": {"datum": 0.88},
                      "color": {"field": "band", "type": "nominal", "scale": {"domain": ["Worse", "About the same", "Better"], "range": ["#cc0000", "#dd5500", "#009155"]}, "legend": null}}},
        {"data": {"name": "scores"}, "transform": [{"filter": "datum.id == 10"}], "mark": {"type": "point", "shape": "diamond", "filled": true, "size": 420, "color": "black", "opacity": 1},
         "encoding": {"x": {"field": "score", "type": "quantitative", "scale": {"domain": [0, 10], "nice": false, "zero": false}, "axis": {"values": [0,1,2,3,4,5,6,7,8,9,10], "format": "d", "title": null}},
                      "y": {"datum": 0.49, "type": "quantitative", "scale": {"domain": [0, 1.94], "nice": false, "zero": false}, "axis": null}}},
        {"data": {"name": "questions"}, "transform": [{"filter": "datum.id == 10"}], "mark": {"type": "text", "align": "left", "baseline": "middle", "fontSize": 29.3, "lineHeight": 33, "lineBreak": "|", "color": "black"},
         "encoding": {"x": {"datum": -11.005, "type": "quantitative", "scale": {"domain": [0, 10], "nice": false, "zero": false}, "axis": {"values": [0,1,2,3,4,5,6,7,8,9,10], "format": "d", "title": null}},
                      "y": {"datum": 0.3, "type": "quantitative", "scale": {"domain": [0, 1.94], "nice": false, "zero": false}, "axis": null},
                      "text": {"field": "question"}}}
      ]
    },
    {
      "width": 587, "height": 35,
      "data": {"values": [{"edge": "bottom"}]},
      "layer": [
        {"mark": {"type": "rule", "color": "black", "strokeWidth": 2.5},
         "encoding": {"x": {"datum": -11.312, "type": "quantitative", "scale": {"domain": [0, 10], "nice": false, "zero": false}, "axis": null}, "x2": {"datum": 12.385},
                      "y": {"datum": 0, "type": "quantitative", "scale": {"domain": [0, 0.7], "nice": false, "zero": false}, "axis": null}}},
        {"mark": {"type": "rule", "color": "black", "strokeWidth": 2.5},
         "encoding": {"x": {"datum": -11.312, "type": "quantitative", "scale": {"domain": [0, 10], "nice": false, "zero": false}, "axis": null},
                      "y": {"datum": 0, "type": "quantitative", "scale": {"domain": [0, 0.7], "nice": false, "zero": false}, "axis": null}, "y2": {"datum": 0.7}}},
        {"mark": {"type": "rule", "color": "black", "strokeWidth": 2.5},
         "encoding": {"x": {"datum": 12.385, "type": "quantitative", "scale": {"domain": [0, 10], "nice": false, "zero": false}, "axis": null},
                      "y": {"datum": 0, "type": "quantitative", "scale": {"domain": [0, 0.7], "nice": false, "zero": false}, "axis": null}, "y2": {"datum": 0.7}}}
      ]
    }
  ]
}
